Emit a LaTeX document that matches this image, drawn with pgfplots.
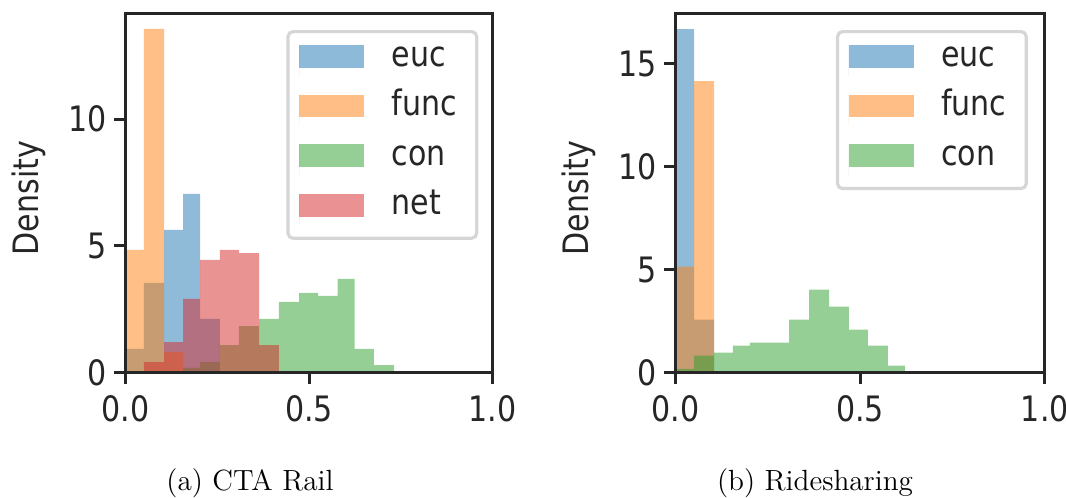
\documentclass[border=0pt]{standalone}
\usepackage{fontspec}
\usepackage{pgfplots}
\pgfplotsset{compat=1.18}
\newfontfamily\djv{DejaVu Sans}[FakeStretch=0.86]
\definecolor{tabblue}{HTML}{1F77B4}
\definecolor{taborange}{HTML}{FF7F0E}
\definecolor{tabgreen}{HTML}{2CA02C}
\definecolor{tabred}{HTML}{D62728}
\definecolor{axgray}{HTML}{262626}
\definecolor{leggray}{HTML}{D6D6D6}
\pgfplotsset{
  hstyle/.style={
    scale only axis, height=179.65pt,
    xmin=0, xmax=1, ymin=0,
    axis on top,
    axis line style={axgray, line width=1.6pt},
    tick style={axgray, line width=1.5pt},
    major tick length=5.75pt,
    tick align=outside,
    xtick pos=bottom, ytick pos=left,
    xtick={0,0.5,1}, xticklabels={0.0,0.5,1.0},
    ticklabel style={font=\djv\fontsize{17.5}{17.5}\selectfont, text=axgray, inner sep=0pt},
    xticklabel style={anchor=north, yshift=-5.5pt},
    yticklabel style={anchor=east, xshift=-3.5pt},
    legend image code/.code={\fill[#1, sharp corners] (0pt,-5.67pt) rectangle (32.5pt,5.67pt); \path (0pt,-9.67pt) -- (0pt,5.67pt);},
    legend cell align=left,
    legend style={anchor=north west, draw=leggray, line width=1.6pt, rounded corners=2.5pt, fill=white,
      inner xsep=5.5pt, inner ysep=6.75pt, outer sep=0pt, row sep=9.48pt,
      font=\djv\fontsize{17.5}{17.5}\selectfont, text=axgray,
      /tikz/every odd column/.append style={column sep=13.85pt},
      nodes={inner sep=0pt, anchor=west, text height=9.6pt, text depth=0pt, text width=37pt, align=left}},
  },
  hist/.style={draw=none, fill=#1, fill opacity=0.5, const plot mark left, forget plot},
}
\begin{document}
\begin{tikzpicture}
\path[use as bounding box] (0pt,0pt) rectangle (533pt,-249pt);
% ---------- (a) CTA Rail ----------
\begin{axis}[hstyle, at={(62.75pt,-186.35pt)}, anchor=south west, width=183.5pt,
  ymax=14.17, ytick={0,5,10}, yticklabels={0,5,10},
  legend style={at={(0.4428,0.9493)}}]
\addplot[hist=tabblue] coordinates {(0.003,0.94) (0.050,3.54) (0.105,5.63) (0.157,7.05) (0.203,2.12) (0.257,2.12)} \closedcycle;
\addplot[hist=taborange] coordinates {(0.003,4.84) (0.050,13.56) (0.105,0.82) (0.157,0.82)} \closedcycle;
\addplot[hist=tabgreen] coordinates {(0.157,0.19) (0.203,0.42) (0.257,1.09) (0.309,1.84) (0.364,2.12) (0.418,2.79) (0.473,3.15) (0.525,3.03) (0.578,3.70) (0.624,0.94) (0.677,0.30) (0.732,0.30)} \closedcycle;
\addplot[hist=tabred] coordinates {(0.050,0.42) (0.105,1.21) (0.157,2.91) (0.203,4.45) (0.257,4.84) (0.309,4.72) (0.364,1.09) (0.418,1.09)} \closedcycle;
\addlegendimage{fill=tabblue, fill opacity=0.5, draw=none}
\addlegendentry{euc}
\addlegendimage{fill=taborange, fill opacity=0.5, draw=none}
\addlegendentry{func}
\addlegendimage{fill=tabgreen, fill opacity=0.5, draw=none}
\addlegendentry{con}
\addlegendimage{fill=tabred, fill opacity=0.5, draw=none}
\addlegendentry{net}
\end{axis}
% ---------- (b) Ridesharing ----------
\begin{axis}[hstyle, at={(337.65pt,-186.35pt)}, anchor=south west, width=184.75pt,
  ymax=17.43, ytick={0,5,10,15}, yticklabels={0,5,10,15},
  legend style={at={(0.439,0.9493)}}]
\addplot[hist=tabblue] coordinates {(0.004,16.67) (0.051,2.58) (0.105,2.58)} \closedcycle;
\addplot[hist=taborange] coordinates {(0.004,5.15) (0.051,14.14) (0.105,14.14)} \closedcycle;
\addplot[hist=tabgreen] coordinates {(0.004,0.19) (0.051,0.83) (0.105,0.97) (0.156,1.31) (0.202,1.46) (0.256,1.46) (0.308,2.58) (0.362,4.03) (0.416,3.21) (0.470,2.09) (0.521,1.31) (0.575,0.34) (0.621,0.34)} \closedcycle;
\addlegendimage{fill=tabblue, fill opacity=0.5, draw=none}
\addlegendentry{euc}
\addlegendimage{fill=taborange, fill opacity=0.5, draw=none}
\addlegendentry{func}
\addlegendimage{fill=tabgreen, fill opacity=0.5, draw=none}
\addlegendentry{con}
\end{axis}
% ---------- labels ----------
\node[rotate=90, anchor=base, font=\djv\fontsize{17.5}{17.5}\selectfont, text=axgray] at (19.15pt,-99pt) {Density};
\node[rotate=90, anchor=base, font=\djv\fontsize{17.5}{17.5}\selectfont, text=axgray] at (294pt,-99pt) {Density};
\node[anchor=base, font=\fontsize{14.6}{16}\selectfont] at (125pt,-245pt) {(a) CTA Rail};
\node[anchor=base, font=\fontsize{14.6}{16}\selectfont] at (407.5pt,-245pt) {(b) Ridesharing};
\end{tikzpicture}
\end{document}
